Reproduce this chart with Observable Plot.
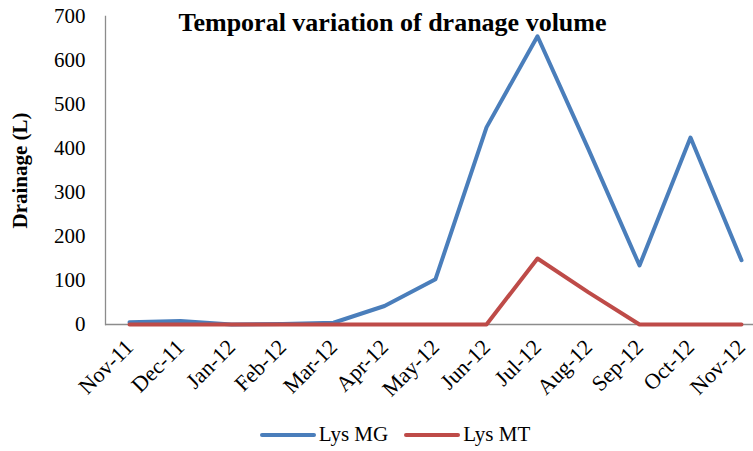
<!DOCTYPE html>
<html>
<head>
<meta charset="utf-8">
<script src="https://cdn.jsdelivr.net/npm/d3@7"></script>
<script src="https://cdn.jsdelivr.net/npm/@observablehq/plot@0.6"></script>
<style>
  body { margin: 0; background: #fff; font-family: "Liberation Serif", "Times New Roman", serif; }
  #wrap { position: relative; width: 753px; height: 451px; overflow: hidden; }
  #chart svg text { font-family: "Liberation Serif", "Times New Roman", serif; }
  #title { position: absolute; left: 0; width: 785px; top: 8px; text-align: center; font-weight: bold; font-size: 26px; color: #000; }
  #legend { position: absolute; top: 422px; left: 0; width: 790px; display: flex; justify-content: center; gap: 16px; font-size: 21px; }
  #legend .item { display: flex; align-items: center; gap: 3px; }
</style>
</head>
<body>
<div id="wrap">
  <div id="chart"></div>
  <div id="title">Temporal variation of dranage volume</div>
  <div id="legend"></div>
</div>
<script>
const months = ["Nov-11","Dec-11","Jan-12","Feb-12","Mar-12","Apr-12","May-12","Jun-12","Jul-12","Aug-12","Sep-12","Oct-12","Nov-12"];
const seriesNames = ["Lys MG", "Lys MT"];
const seriesColors = ["#4A7EBB", "#BE4B48"];
const lysMG = [5, 8, 0, 1, 4, 42, 103, 448, 655, 398, 134, 425, 146];
const lysMT = [0, 0, 0, 0, 0, 0, 0, 0, 150, 73, 0, 0, 0];
const yTicks = [0, 100, 200, 300, 400, 500, 600, 700];
const serif = "Liberation Serif, Times New Roman, serif";

const data = [];
months.forEach((m, i) => {
  data.push({month: m, value: lysMG[i], series: seriesNames[0]});
});
months.forEach((m, i) => {
  data.push({month: m, value: lysMT[i], series: seriesNames[1]});
});

const chart = Plot.plot({
  width: 753,
  height: 410,
  marginLeft: 105,
  marginRight: 0,
  marginTop: 16,
  marginBottom: 86,
  style: {fontFamily: serif, background: "#fff", color: "#000"},
  x: {type: "point", domain: months, range: [127, 743], padding: 0, label: null},
  y: {domain: [0, 700], label: null},
  color: {domain: seriesNames, range: seriesColors},
  marks: [
    Plot.axisY({ticks: yTicks, tickSize: 0, tickPadding: 20, fontSize: 21, fontFamily: serif, label: null}),
    Plot.axisX({tickSize: 0, tickPadding: 19, tickRotate: -45, fontSize: 22, fontFamily: serif, label: null}),
    Plot.text(["Drainage (L)"], {frameAnchor: "left", dx: -85, rotate: -90, textAnchor: "middle", fontSize: 21, fontWeight: "bold", fontFamily: serif}),
    Plot.frame({anchor: "left", stroke: "#8c8c8c", strokeWidth: 1.3}),
    Plot.ruleY([0], {stroke: "#8c8c8c", strokeWidth: 1.3}),
    Plot.line(data, {x: "month", y: "value", z: "series", stroke: "series", strokeWidth: 4, strokeLinejoin: "round", strokeLinecap: "round"})
  ]
});
document.getElementById("chart").appendChild(chart);

const legend = document.getElementById("legend");
seriesNames.forEach((name, i) => {
  const item = document.createElement("div");
  item.className = "item";
  item.innerHTML = `<svg width="56" height="10"><line x1="2" y1="5" x2="54" y2="5" stroke="${seriesColors[i]}" stroke-width="4" stroke-linecap="round"/></svg><span>${name}</span>`;
  legend.appendChild(item);
});
</script>
</body>
</html>
